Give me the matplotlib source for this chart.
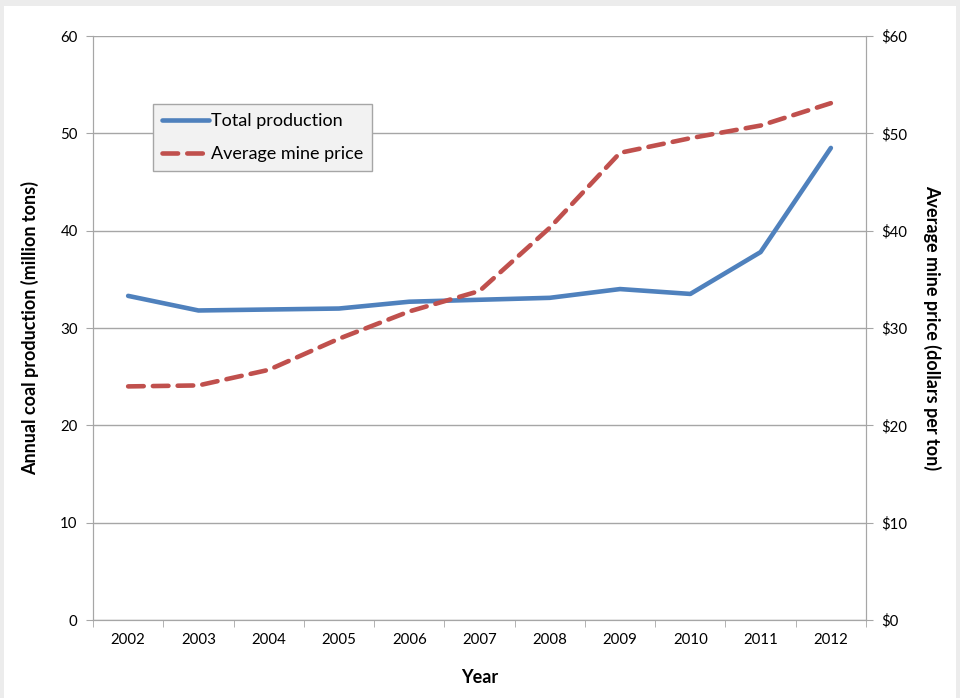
import matplotlib
matplotlib.use("Agg")
import matplotlib.pyplot as plt
from matplotlib.patches import Rectangle
from matplotlib.ticker import FuncFormatter, MultipleLocator

plt.rcParams['font.family'] = ['Lato', 'DejaVu Sans']

years = ['2002', '2003', '2004', '2005', '2006', '2007', '2008', '2009', '2010', '2011', '2012']
production = [33.3, 31.8, 31.9, 32.0, 32.7, 32.9, 33.1, 34.0, 33.5, 37.8, 48.5]
price = [24.0, 24.1, 25.7, 28.9, 31.7, 33.8, 40.3, 48.0, 49.5, 50.8, 53.1]

blue = '#4f81bd'
red = '#c0504d'
grid_c = '#a6a6a6'

fig = plt.figure(figsize=(9.6, 6.98), dpi=100, facecolor='#ececec')
fig.patches.append(Rectangle((4/960, 0), 952/960, 692/698, transform=fig.transFigure,
                             facecolor='white', edgecolor='none', zorder=-10))

ax = fig.add_axes([93/960, 1 - 620/698, (866-93)/960, (620-36)/698])
ax.set_facecolor('none')
ax2 = ax.twinx()

x = list(range(len(years)))
ax.plot(x, production, color=blue, lw=3.3, solid_capstyle='round', label='Total production', zorder=3)
ax2.plot(x, price, color=red, lw=3.3, dashes=(3.4, 2.0), dash_capstyle='round', label='Average mine price', zorder=3)

ax.set_xlim(-0.5, 10.5)
ax.set_ylim(0, 60)
ax2.set_ylim(0, 60)
ax.yaxis.set_major_locator(MultipleLocator(10))
ax2.yaxis.set_major_locator(MultipleLocator(10))
ax2.yaxis.set_major_formatter(FuncFormatter(lambda v, p: f'${v:.0f}'))

ax.set_xticks(x)
ax.set_xticklabels(years)
ax.set_xticks([i - 0.5 for i in range(len(years) + 1)], minor=True)
ax.tick_params(axis='x', which='major', length=0, pad=9, labelsize=10.8)
ax.tick_params(axis='x', which='minor', length=5, color=grid_c, direction='out')
ax.tick_params(axis='y', length=5, color=grid_c, pad=6, labelsize=10.8)
ax2.tick_params(axis='y', length=5, color=grid_c, pad=6, labelsize=10.8)

ax.grid(axis='y', color=grid_c, lw=1)
ax.set_axisbelow(True)
for a in (ax, ax2):
    for s in a.spines.values():
        s.set_color(grid_c)
    a.spines['top'].set_visible(False)

ax.set_xlabel('Year', fontsize=13, fontweight='bold', labelpad=16)
ax.set_ylabel('Annual coal production (million tons)', fontsize=13, fontweight='bold', labelpad=15)
ax2.set_ylabel('Average mine price (dollars per ton)', fontsize=13, fontweight='bold',
               rotation=270, labelpad=24)

h1, l1 = ax.get_legend_handles_labels()
h2, l2 = ax2.get_legend_handles_labels()
leg = ax2.legend(h1 + h2, l1 + l2, loc='upper left', bbox_to_anchor=(60/773, 1 - 68/584),
                 fontsize=13, frameon=True, fancybox=False, facecolor='#f2f2f2',
                 edgecolor='#a6a6a6', framealpha=1, handlelength=2.6, handletextpad=0.1,
                 borderpad=0.5, labelspacing=0.95, borderaxespad=0)
leg.get_frame().set_linewidth(1)

fig.savefig('out.png', dpi=100, facecolor=fig.get_facecolor())
